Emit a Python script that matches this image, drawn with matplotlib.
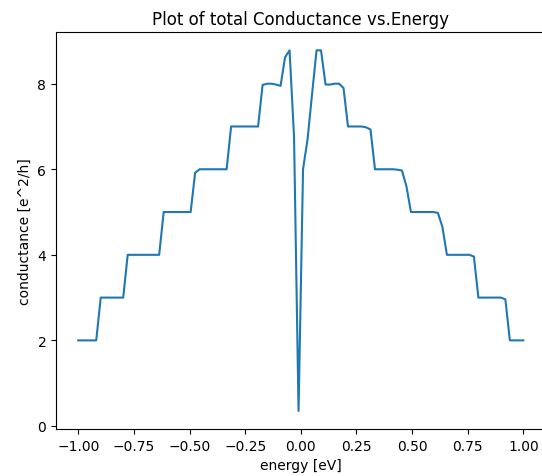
import numpy as np
import matplotlib
matplotlib.use("Agg")
import matplotlib.pyplot as plt

energy = np.linspace(-1.0, 1.0, 100)
conductance = [
    2, 2, 2, 2, 2,
    3, 3, 3, 3, 3, 3,
    4, 4, 4, 4, 4, 4, 4, 4,
    5, 5, 5, 5, 5, 5, 5,
    5.92,
    6, 6, 6, 6, 6, 6, 6,
    7, 7, 7, 7, 7, 7, 7,
    7.97, 8.0, 8.0, 7.98, 7.95,
    8.62, 8.78, 6.75, 0.35, 6.0, 6.7, 7.75, 8.78, 8.78, 7.98,
    7.98, 8.0, 8.0,
    7.9,
    7.0, 7.0, 7.0, 7.0, 6.98,
    6.93,
    6.0, 6.0, 6.0, 6.0, 6.0, 5.99,
    5.97,
    5.6,
    5, 5, 5, 5, 5, 5,
    4.98,
    4.65,
    4, 4, 4, 4, 4, 4,
    3.96,
    3, 3, 3, 3, 3, 3,
    2.96,
    2, 2, 2, 2,
]

title = "Plot of total Conductance vs.Energy"
xlabel = "energy [eV]"
ylabel = "conductance [e^2/h]"

fig = plt.figure(figsize=(5.42, 4.77), dpi=100)
ax = fig.add_axes([56 / 542, 47 / 477, (545.6 - 56) / 542, (430 - 33.3) / 477])
ax.plot(energy, conductance, color="#1f77b4", linewidth=1.5)
ax.set_title(title)
ax.set_xlabel(xlabel)
ax.set_ylabel(ylabel)
fig.savefig("out.png", dpi=100)
